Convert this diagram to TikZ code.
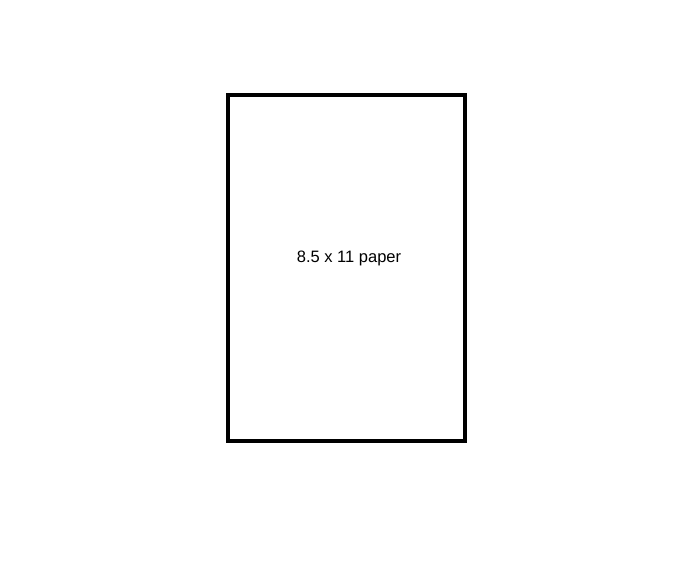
\documentclass[tikz,border=0pt]{standalone}
\usepackage{fontspec}
\setmainfont{Liberation Sans}
\begin{document}
\begin{tikzpicture}[x=1pt,y=1pt,
  paper/.style={draw=black,line width=4pt,fill=white},
  lbl/.style={font=\fontsize{16.5}{19}\selectfont,inner sep=0pt}]
\useasboundingbox (0,0) rectangle (696,564);
\fill[white] (0,0) rectangle (696,564);
\draw[paper] (228,123) rectangle (465,469);
\node[lbl] (label) at (349,305.5) {8.5 x 11 paper};
\end{tikzpicture}
\end{document}
